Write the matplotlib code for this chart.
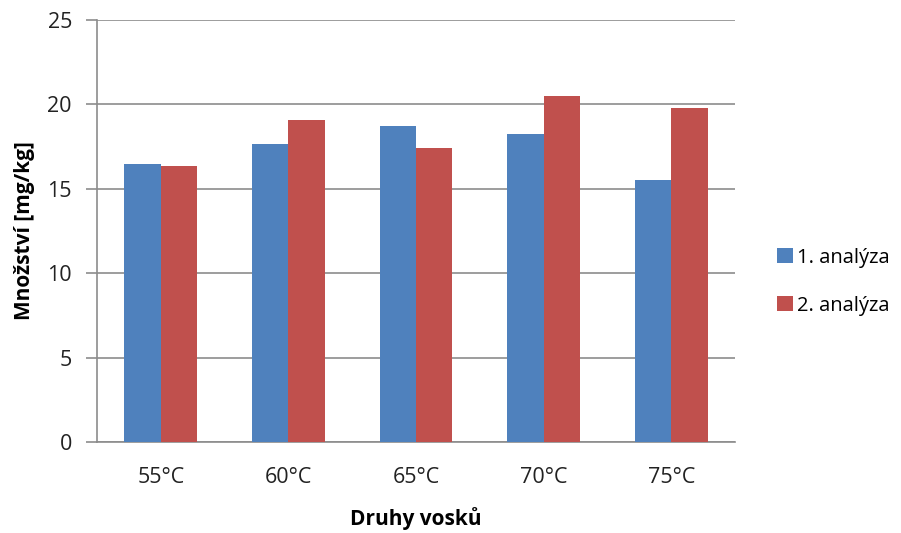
import matplotlib
matplotlib.use("Agg")
import matplotlib.pyplot as plt
import numpy as np

categories = ["55°C", "60°C", "65°C", "70°C", "75°C"]
analyza_1 = [16.45, 17.65, 18.70, 18.22, 15.50]
analyza_2 = [16.34, 19.08, 17.39, 20.50, 19.78]
series_names = ["1. analýza", "2. analýza"]
y_ticks = [0, 5, 10, 15, 20, 25]

plt.rcParams["font.family"] = ["Open Sans", "DejaVu Sans"]

fig = plt.figure(figsize=(9.01, 5.33), dpi=100)
ax = fig.add_axes([97 / 901, 1 - 442 / 533, (735 - 97) / 901, (442 - 20) / 533])

x = np.arange(len(categories))
w = 0.286
ax.bar(x - w / 2, analyza_1, w, color="#4F81BD", label=series_names[0], zorder=3)
ax.bar(x + w / 2, analyza_2, w, color="#C0504D", label=series_names[1], zorder=3)

ax.set_xlim(-0.5, len(categories) - 0.5)
ax.set_ylim(0, 25)
ax.set_yticks(y_ticks)
ax.set_xticks(x)
ax.set_xticklabels(categories)
ax.yaxis.grid(True, color="#8C8C8C", linewidth=1.2, zorder=0)

for side in ["top", "right"]:
    ax.spines[side].set_visible(False)
for side in ["left", "bottom"]:
    ax.spines[side].set_color("#8C8C8C")
    ax.spines[side].set_linewidth(1.2)

ax.tick_params(axis="y", length=8, width=1.2, color="#8C8C8C", labelsize=15.5,
               labelcolor="#222222", pad=10)
ax.tick_params(axis="x", length=0, labelsize=15.5, labelcolor="#222222", pad=18)

ax.set_ylabel("Množství [mg/kg]", fontsize=15, fontweight="bold", labelpad=9)
ax.set_xlabel("Druhy vosků", fontsize=15, fontweight="bold", labelpad=14)

ax.legend(loc="center left", bbox_to_anchor=(1.038, 0.38), frameon=False,
          fontsize=14.5, handlelength=0.78, handleheight=0.78, handletextpad=0.2,
          labelspacing=1.4)

fig.savefig("out.png", dpi=100)
